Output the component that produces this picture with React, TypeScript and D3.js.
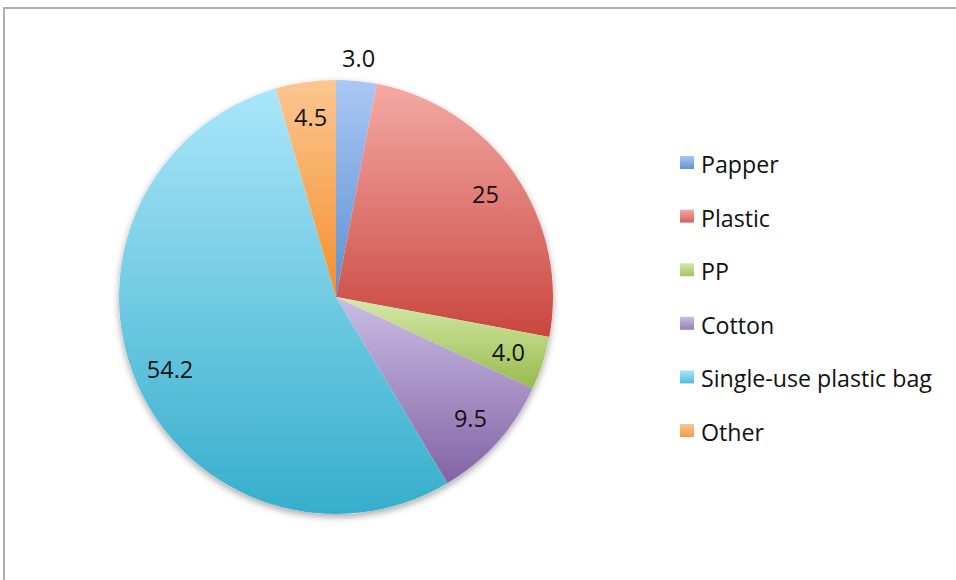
import React from "react";
import * as d3 from "d3";

const categories = ["Papper", "Plastic", "PP", "Cotton", "Single-use plastic bag", "Other"];
const values = [3.0, 25, 4.0, 9.5, 54.2, 4.5];
const labels = ["3.0", "25", "4.0", "9.5", "54.2", "4.5"];
const topColors = ["#abc7f4", "#f5aaa6", "#d5eaab", "#cabde3", "#aae6fa", "#fcc692"];
const bottomColors = ["#5a90d2", "#c9463f", "#98ba4c", "#8263a6", "#36aecb", "#f38f2c"];
const legendColors = ["#5e93d4", "#d0625c", "#a4c462", "#9480b9", "#4cbcd6", "#f59a4a"];

const W = 956;
const H = 580;
const cx = 336;
const cy = 297;
const R = 217;
const FONT = "'Open Sans', 'Noto Sans', sans-serif";

export default function App() {
  const pie = d3.pie<number>().sort(null).value((d) => d)(values);
  const arc = d3.arc<d3.PieArcDatum<number>>().innerRadius(0).outerRadius(R);
  const labelArcIn = d3.arc<d3.PieArcDatum<number>>().innerRadius(181).outerRadius(181);
  const labelArcOut = d3.arc<d3.PieArcDatum<number>>().innerRadius(240).outerRadius(240);

  const legendY = d3.scaleLinear().domain([0, categories.length - 1]).range([173, 441]);

  return (
    <svg width={W} height={H} style={{ position: "absolute", left: 0, top: 0, background: "#fff" }}>
      <defs>
        {categories.map((c, i) => (
          <linearGradient key={c} id={`g${i}`} x1="0" y1="0" x2="0" y2="1">
            <stop offset="0" stopColor={topColors[i]} />
            <stop offset="1" stopColor={bottomColors[i]} />
          </linearGradient>
        ))}
        {categories.map((c, i) => (
          <linearGradient key={"l" + c} id={`lg${i}`} x1="0" y1="0" x2="0" y2="1">
            <stop offset="0" stopColor={topColors[i]} />
            <stop offset="1" stopColor={legendColors[i]} />
          </linearGradient>
        ))}
        <filter id="shadow" x="-20%" y="-20%" width="140%" height="140%">
          <feDropShadow dx="0" dy="3" stdDeviation="3.5" floodColor="#000" floodOpacity="0.35" />
        </filter>
      </defs>
      <rect x={4} y={8} width={1000} height={700} fill="none" stroke="#a8a8a8" strokeWidth={1.8} />
      <g transform={`translate(${cx},${cy})`}>
        <circle r={R} fill="#fff" filter="url(#shadow)" />
        {pie.map((p, i) => (
          <path key={categories[i]} d={arc(p) || ""} fill={`url(#g${i})`} />
        ))}
        {pie.map((p, i) => {
          const [x, y] = i === 0 ? labelArcOut.centroid(p) : labelArcIn.centroid(p);
          return (
            <text
              key={"t" + i}
              x={x}
              y={y}
              dy="0.36em"
              textAnchor="middle"
              fontFamily={FONT}
              fontSize={23.5}
              fill="#111"
            >
              {labels[i]}
            </text>
          );
        })}
      </g>
      <g>
        {categories.map((c, i) => (
          <g key={"leg" + c} transform={`translate(680,${legendY(i)})`}>
            <rect x={0} y={-17} width={14} height={13} fill={`url(#lg${i})`} />
            <text x={21} y={0} fontFamily={FONT} fontSize={23.2} fill="#111">
              {c}
            </text>
          </g>
        ))}
      </g>
    </svg>
  );
}
